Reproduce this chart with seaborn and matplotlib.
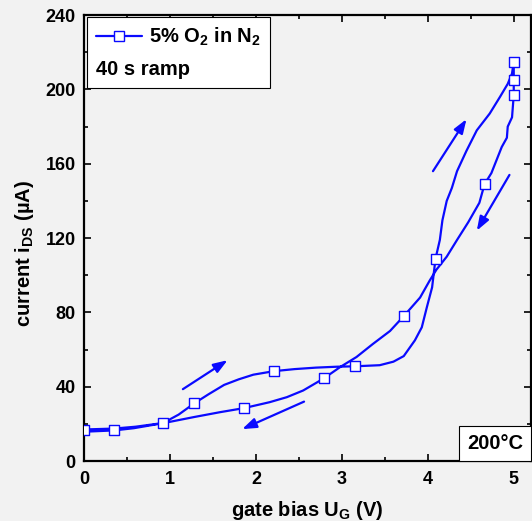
import matplotlib
matplotlib.use("Agg")
import matplotlib.pyplot as plt
from matplotlib.lines import Line2D
from matplotlib.offsetbox import AnchoredText
from matplotlib.ticker import MultipleLocator
import pandas as pd
import seaborn as sns

# forward sweep 0 -> 5 V
fwd_v = [0.00, 0.35, 0.60, 0.92, 1.10, 1.28, 1.45, 1.63, 1.80, 1.97, 2.21, 2.45,
         2.70, 2.95, 3.15, 3.44, 3.60, 3.72, 3.85, 3.93, 3.99, 4.05, 4.09, 4.14,
         4.17, 4.22, 4.28, 4.34, 4.45, 4.57, 4.72, 4.84, 4.93, 4.98, 5.00]
fwd_i = [17.0, 17.5, 18.5, 20.5, 25.0, 31.0, 36.0, 41.0, 44.0, 46.5, 48.4, 49.5,
         50.3, 50.8, 51.0, 51.6, 53.5, 56.5, 65.0, 72.0, 83.0, 93.5, 109.0, 119.0,
         129.6, 140.0, 147.0, 156.0, 167.0, 178.0, 187.0, 196.0, 203.0, 208.6, 215.0]

# return sweep 5 -> 0 V
rev_v = [5.00, 5.00, 4.98, 4.93, 4.92, 4.86, 4.80, 4.74, 4.66, 4.60, 4.47, 4.34,
         4.22, 4.10, 4.02, 3.91, 3.72, 3.56, 3.36, 3.17, 2.98, 2.79, 2.55, 2.36,
         2.16, 1.86, 1.58, 1.28, 0.92, 0.58, 0.35, 0.00]
rev_i = [205.0, 197.0, 185.0, 180.0, 174.0, 169.0, 162.0, 155.0, 149.0, 139.0, 128.5, 119.0,
         110.0, 103.0, 97.0, 88.0, 78.0, 70.0, 63.0, 56.0, 50.6, 44.5, 38.0, 34.4,
         31.7, 28.5, 26.3, 23.7, 20.4, 17.7, 16.5, 15.8]

# open square symbols on the trace
sym_v = [0.00, 0.35, 0.92, 1.28, 1.86, 2.21, 2.79, 3.15, 3.72, 4.09, 4.66, 5.00, 5.00, 5.00]
sym_i = [16.5, 16.7, 20.4, 31.0, 28.5, 48.4, 44.5, 51.0, 78.0, 109.0, 149.0, 215.0, 205.0, 197.0]

# sweep direction arrows
arrow_v0 = [1.15, 2.56, 4.06, 4.95]
arrow_i0 = [38.7, 32.0, 156.0, 154.0]
arrow_v1 = [1.67, 1.84, 4.45, 4.57]
arrow_i1 = [54.3, 17.2, 184.0, 124.0]

BLUE = "#0a0aff"
BG = "#f2f2f2"

sns.set_theme(style="ticks")
plt.rcParams["font.family"] = ["Liberation Sans", "DejaVu Sans"]
plt.rcParams["font.weight"] = "bold"
plt.rcParams["text.color"] = "black"
plt.rcParams["axes.labelcolor"] = "black"
plt.rcParams["xtick.color"] = "black"
plt.rcParams["ytick.color"] = "black"
plt.rcParams["mathtext.fontset"] = "custom"
plt.rcParams["mathtext.rm"] = "Liberation Sans:bold"
plt.rcParams["mathtext.bf"] = "Liberation Sans:bold"
plt.rcParams["mathtext.it"] = "Liberation Sans:bold"
plt.rcParams["mathtext.default"] = "bf"

trace = pd.DataFrame({
    "V": fwd_v + rev_v,
    "I": fwd_i + rev_i,
})
symbols = pd.DataFrame({"V": sym_v, "I": sym_i})

fig = plt.figure(figsize=(5.32, 5.21), dpi=100, facecolor=BG)
ax = fig.add_axes([0.158, 0.115, 0.840, 0.856])
ax.set_facecolor(BG)

sns.lineplot(data=trace, x="V", y="I", sort=False, estimator=None,
             color=BLUE, linewidth=1.6, ax=ax, zorder=2)
sns.scatterplot(data=symbols, x="V", y="I", marker="s", s=55,
                facecolor="white", edgecolor=BLUE, linewidth=1.0, ax=ax, zorder=3)

for v0, i0, v1, i1 in zip(arrow_v0, arrow_i0, arrow_v1, arrow_i1):
    ax.annotate("", xy=(v1, i1), xytext=(v0, i0),
                arrowprops=dict(arrowstyle="-|>,head_length=0.7,head_width=0.25",
                                color=BLUE, lw=1.6, mutation_scale=12,
                                shrinkA=0, shrinkB=0))

ax.set_xlim(0, 5.2)
ax.set_ylim(0, 240)
ax.xaxis.set_major_locator(MultipleLocator(1))
ax.xaxis.set_minor_locator(MultipleLocator(0.5))
ax.yaxis.set_major_locator(MultipleLocator(40))
ax.yaxis.set_minor_locator(MultipleLocator(20))
ax.tick_params(which="both", direction="in", top=True, right=True,
               width=1.2, colors="black", labelsize=13)
ax.tick_params(which="major", length=5)
ax.tick_params(which="minor", length=3)
ax.tick_params(axis="x", which="major", pad=7)
ax.tick_params(axis="y", which="major", pad=6)
for lbl in ax.get_xticklabels() + ax.get_yticklabels():
    lbl.set_fontweight("bold")
for sp in ax.spines.values():
    sp.set_linewidth(1.6)
    sp.set_color("black")

ax.set_xlabel("gate bias U$_G$ (V)", fontsize=14.5, fontweight="bold", labelpad=8)
ax.set_ylabel("current i$_{DS}$ (µA)", fontsize=14.5, fontweight="bold")
ax.yaxis.set_label_coords(-0.107, 0.465)

handle = Line2D([], [], color=BLUE, lw=1.6, marker="s", ms=7,
                mfc="white", mec=BLUE, mew=1.0)
leg = ax.legend([handle], ["5% O$_2$ in N$_2$"], title="40 s ramp",
                loc="upper left", bbox_to_anchor=(0.006, 0.996),
                borderaxespad=0, frameon=True, fancybox=False,
                prop={"weight": "bold", "size": 14.5},
                title_fontproperties={"weight": "bold", "size": 14.5},
                alignment="left", handlelength=2.3, handletextpad=0.35,
                borderpad=0.45, labelspacing=0.6)
leg.get_frame().set_edgecolor("black")
leg.get_frame().set_linewidth(0.8)
leg.get_frame().set_facecolor("white")
leg.get_frame().set_alpha(1)
# put the "40 s ramp" line below the entry
leg._legend_box._children = leg._legend_box._children[::-1]

temp_box = AnchoredText("200°C", loc="lower right", borderpad=0, pad=0.4,
                        frameon=True, prop={"size": 14.5, "weight": "bold"})
temp_box.patch.set_boxstyle("square,pad=0")
temp_box.patch.set_facecolor("white")
temp_box.patch.set_edgecolor("black")
temp_box.patch.set_linewidth(0.8)
ax.add_artist(temp_box)

fig.savefig("out.png", dpi=100, facecolor=BG)
